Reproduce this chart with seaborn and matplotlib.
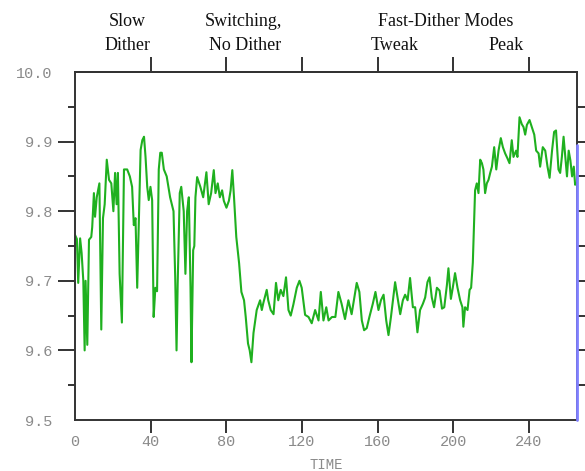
import matplotlib
matplotlib.use("Agg")
import matplotlib.pyplot as plt
import matplotlib.transforms as mtransforms
from matplotlib.ticker import FixedLocator
import seaborn as sns
import pandas as pd

time = [0, 1, 1.7, 2.7, 3.5, 4.4, 5.1, 5.6, 6.5, 7.4, 8.6, 9.1, 10, 10.6, 11.5, 12.2, 12.9, 13.9,
        14.8, 15.7, 16.8, 18, 19.2, 20.3, 21.2, 22, 22.7, 23.6, 24.8, 25.9, 27.6, 29, 30.2, 31.1,
        32, 32.9, 33.8, 34.7, 35.6, 36.5, 37.3, 38.2, 39, 39.9, 40.8, 41.6, 42.5, 43.4, 44.3, 45.1,
        45.9, 47, 48.5, 50.3, 52.1, 53, 53.7, 54.3, 55.4, 56.2, 57.5, 58.4, 59.3, 60.2, 61.1, 61.6,
        62.5, 63.1, 63.7, 64.6, 66.3, 67.8, 69.5, 70.7, 72, 73.4, 74.3, 75.5, 76.6, 77.8, 78.7,
        80.1, 81.4, 82.3, 83.2, 84.1, 85.3, 86.8, 88, 89.4, 90.3, 91.5, 92.4, 93.3, 94.4, 96.1,
        97.9, 98.8, 99.6, 101.4, 102.2, 103.5, 105, 106.3, 107.5, 108.8, 110.2, 111.6, 112.9,
        114.1, 115.5, 117.3, 118.7, 119.9, 121.7, 123.5, 125.2, 127, 128.8, 130, 131.4, 132.9,
        134.1, 135.9, 137.7, 139.3, 141, 142.8, 144.6, 146.3, 147.6, 149, 150.4, 151.7, 152.9,
        154.3, 155.7, 157.5, 158.9, 160.5, 161.8, 163.2, 164.6, 165.8, 167.1, 168.5, 169.3,
        170.6, 172, 173.4, 174.6, 175.9, 177.2, 178.7, 179.9, 181.1, 182.5, 184, 185.2, 186.4,
        187.5, 188.7, 189.9, 191.4, 192.8, 194.1, 195.3, 196.7, 197.5, 198.8, 199.8, 201,
        202.3, 203.7, 204.9, 205.4, 206.3, 207.6, 208.7, 209.5, 210.4, 211.1, 211.6, 212.5,
        213.4, 214.3, 215.2, 216, 216.9, 217.8, 218.7, 219.6, 220.5, 221.7, 222.8, 224, 225.2,
        226.3, 227.5, 228.7, 229.8, 231, 231.9, 233.3, 234, 235.1, 236.3, 237.2, 238.1, 239,
        240.4, 241.6, 242.9, 243.9, 245.2, 246, 247.4, 248.7, 249.9, 251, 252.3, 253.4, 254.4,
        255.7, 256.6, 257.5, 258.4, 259.3, 260.2, 261.1, 262, 262.9, 263.8, 264.5, 265.2]

value = [9.766, 9.76, 9.697, 9.761, 9.74, 9.70, 9.60, 9.70, 9.608, 9.759, 9.763, 9.777, 9.826, 9.792,
         9.82, 9.83, 9.84, 9.63, 9.79, 9.81, 9.874, 9.845, 9.84, 9.80, 9.855, 9.81, 9.855, 9.71,
         9.64, 9.86, 9.86, 9.85, 9.835, 9.78, 9.79, 9.69, 9.79, 9.888, 9.902, 9.907, 9.878, 9.835,
         9.816, 9.835, 9.816, 9.648, 9.69, 9.685, 9.86, 9.884,
         9.884, 9.86, 9.85, 9.82, 9.80, 9.705, 9.60, 9.695, 9.826, 9.835, 9.80, 9.71, 9.80, 9.82,
         9.69, 9.583, 9.744, 9.75, 9.82, 9.849, 9.835, 9.82, 9.856, 9.81, 9.826, 9.859, 9.826,
         9.84, 9.82, 9.83, 9.815, 9.805, 9.815, 9.83, 9.859, 9.82, 9.763, 9.725, 9.684, 9.672,
         9.648, 9.61, 9.60, 9.583, 9.625, 9.658,
         9.672, 9.658, 9.668, 9.687, 9.672, 9.658, 9.652, 9.697, 9.672, 9.687, 9.678, 9.705,
         9.658, 9.65, 9.666, 9.69, 9.70, 9.69, 9.651, 9.648, 9.639, 9.658, 9.643, 9.684, 9.643,
         9.662, 9.643, 9.648, 9.648, 9.684, 9.667, 9.645, 9.672, 9.652, 9.674, 9.697, 9.684,
         9.643, 9.629, 9.632, 9.648, 9.667, 9.684, 9.658, 9.672, 9.68, 9.643, 9.622, 9.648,
         9.68, 9.698, 9.676, 9.652, 9.672, 9.68, 9.672, 9.704, 9.662, 9.662, 9.626, 9.658,
         9.667, 9.676, 9.698, 9.705, 9.676, 9.662, 9.69, 9.686, 9.66, 9.662, 9.694, 9.718,
         9.674, 9.69, 9.711, 9.69, 9.672, 9.662, 9.634, 9.662, 9.658, 9.687, 9.69, 9.726,
         9.787, 9.83, 9.84, 9.826, 9.874, 9.869, 9.86, 9.826, 9.84, 9.845, 9.855, 9.864, 9.892,
         9.86, 9.887, 9.905, 9.892, 9.883, 9.876, 9.869, 9.902, 9.878, 9.887, 9.878, 9.935,
         9.925, 9.921, 9.91, 9.924, 9.931, 9.921, 9.91, 9.887, 9.883, 9.864, 9.892, 9.887,
         9.864, 9.848, 9.887, 9.914, 9.916, 9.86, 9.855, 9.878, 9.907, 9.878, 9.85, 9.887,
         9.873, 9.85, 9.864, 9.838, 9.84]

x_ticks = [0, 40, 80, 120, 160, 200, 240]
y_ticks = [9.5, 9.6, 9.7, 9.8, 9.9, 10.0]
top_ticks = [40, 80, 120, 160, 200, 240]
phase_labels = [("Slow", 27.8, 0), ("Dither", 27.8, 1),
                ("Switching,", 89.0, 0), ("No Dither", 89.8, 1),
                ("Fast-Dither Modes", 196.3, 0), ("Tweak", 169.3, 1), ("Peak", 228.0, 1)]

df = pd.DataFrame({"TIME": time, "value": value})

sns.set_style("white")
plt.rcParams['font.family'] = ['Liberation Mono', 'DejaVu Sans']

fig = plt.figure(figsize=(5.85, 4.71), dpi=100)
ax = fig.add_axes([75/585, 51/471, 502/585, 348/471])

sns.lineplot(data=df, x="TIME", y="value", ax=ax, color="#1fb01f", linewidth=1.5)

xmax = 265.5
ax.set_xlim(0, xmax)
ax.set_ylim(9.5, 10.0)
ax.axvline(xmax, ymin=0, ymax=0.79, color="#8080ff", linewidth=2.0, zorder=5, clip_on=False)

spine_col = "#333333"
for s in ax.spines.values():
    s.set_color(spine_col)
    s.set_linewidth(1.4)

ax.set_xticks(x_ticks)
ax.set_xticklabels([str(v) for v in x_ticks])
ax.set_yticks(y_ticks)
ax.set_yticklabels(["%.1f" % v for v in y_ticks])
ax.yaxis.set_minor_locator(FixedLocator([9.55, 9.65, 9.75, 9.85, 9.95]))

ax.tick_params(axis="x", which="major", direction="out", length=9, width=1.4, color=spine_col,
               labelsize=11, labelcolor="#8a8a8a", pad=2, bottom=True, top=False)
ax.tick_params(axis="y", which="major", direction="out", length=12, width=1.4, color=spine_col,
               labelsize=11, labelcolor="#8a8a8a", pad=4, left=True, right=True)
ax.tick_params(axis="y", which="minor", direction="out", length=5, width=1.4, color=spine_col,
               left=True, right=True)
ax.tick_params(axis="y", which="both", right=True, labelright=False)
for t in ax.yaxis.get_major_ticks():
    t.tick2line.set_markersize(6)
for t in ax.yaxis.get_minor_ticks():
    t.tick2line.set_markersize(6)
yt = ax.yaxis.get_major_ticks()
yt[0].tick1line.set_visible(False)
yt[-1].tick1line.set_visible(False)
yt[0].tick2line.set_visible(False)
yt[-1].tick2line.set_visible(False)
ax.xaxis.get_major_ticks()[0].tick1line.set_visible(False)

ax.set_xlabel("TIME", fontsize=10, color="#8a8a8a", labelpad=6)
ax.set_ylabel("")

sec = ax.secondary_xaxis("top")
sec.set_xticks(top_ticks)
sec.set_xticklabels([])
sec.tick_params(axis="x", direction="out", length=11, width=1.4, color=spine_col)
sec.spines["top"].set_color(spine_col)
sec.spines["top"].set_linewidth(1.4)

trans = mtransforms.blended_transform_factory(ax.transData, fig.transFigure)
for txt, xpos, line in phase_labels:
    ypos = 1 - (22 if line == 0 else 45) / 471
    ax.text(xpos, ypos, txt, transform=trans, ha="center", va="center",
            fontsize=13, family=["Liberation Serif", "DejaVu Serif"], color="#111111")

fig.savefig("out.png", dpi=100)
